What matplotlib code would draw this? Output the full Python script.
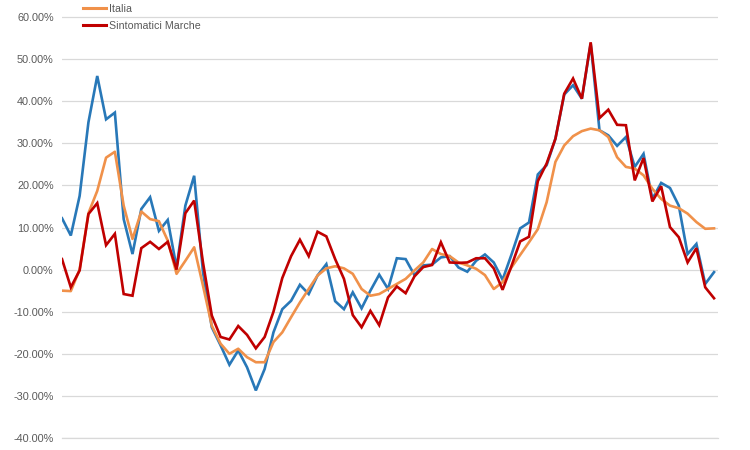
import matplotlib
matplotlib.use("Agg")
import matplotlib.pyplot as plt
from matplotlib.ticker import PercentFormatter, MultipleLocator
from matplotlib.lines import Line2D

# valori (in %), un punto per periodo
marche = [12.2, 8.1, 17.5, 35, 46, 35.7, 37.3, 12, 3.7, 14.4,
          17.2, 9.2, 11.8, 0.5, 15.2, 22.3, -0.6, -13.7, -18, -22.6,
          -19.2, -23.2, -28.7, -23.6, -14.9, -9.4, -7.4, -3.6, -5.8, -1.4,
          1.3, -7.5, -9.4, -5.4, -9.2, -5, -1.2, -4.6, 2.7, 2.5,
          -1.3, 1, 1.2, 2.9, 3.2, 0.5, -0.5, 2.1, 3.6, 1.7,
          -2.4, 3.5, 9.8, 11.2, 22.6, 24.8, 31.1, 41.6, 43.8, 40.6,
          53.7, 33.1, 31.9, 29.4, 31.5, 24.4, 27.5, 16.8, 20.6, 19.4,
          15.2, 3.7, 6.1, -3.4, -0.6]

italia = [-5, -5.1, 0, 13.4, 18.7, 26.6, 28, 15.2, 7.3, 13.8,
          12, 11.5, 6.9, -1, 2.1, 5.3, -3.8, -13.3, -17.6, -20,
          -18.8, -20.8, -22, -22, -17.2, -14.9, -11.3, -7.8, -4.6, -1.4,
          0.3, 0.8, 0.3, -1, -4.6, -6.2, -5.8, -4.6, -3.4, -2.2,
          -0.2, 1.7, 4.9, 3.7, 3.2, 1.7, 1, 0.2, -1.3, -4.6,
          -3.0, 0.5, 3.5, 6.5, 9.6, 16, 25.6, 29.5, 31.7, 32.9,
          33.5, 33.1, 31.5, 26.7, 24.4, 24, 22.4, 19.2, 16.8, 15.2,
          14.6, 13.3, 11.3, 9.7, 9.8]

sintomatici = [2.5, -4.2, -0.2, 13.2, 15.8, 5.8, 8.5, -5.8, -6.2, 5.1,
               6.6, 4.9, 6.6, 0, 13.4, 16.4, 1.7, -10.9, -16, -16.6,
               -13.4, -15.5, -18.7, -16, -10, -2, 3.2, 7.1, 3.2, 9.0,
               7.9, 2.5, -2.2, -10.8, -13.7, -9.8, -13.2, -6.6, -4, -5.6,
               -1.6, 0.6, 1.1, 6.5, 1.7, 1.6, 1.7, 2.7, 2.7, 0.3,
               -4.8, 0.8, 6.7, 7.8, 21, 25.2, 31.1, 41.8, 45.4, 40.6,
               54, 36, 38, 34.4, 34.3, 21.2, 26.5, 16.2, 19.8, 10.1,
               7.7, 1.7, 5.1, -4.2, -6.8]

etichette = ["Italia", "Sintomatici Marche"]

plt.rcParams["font.family"] = ["Liberation Sans", "DejaVu Sans"]
plt.rcParams["axes.unicode_minus"] = False

col_blu = "#2878B8"
col_arancio = "#F0914A"
col_rosso = "#C00000"
col_testo = "#595959"
col_griglia = "#D9D9D9"

fig = plt.figure(figsize=(7.5, 4.5), dpi=100)
ax = fig.add_axes([62 / 750, 1 - 438 / 450, (718 - 62) / 750, 438 / 450])

x = list(range(len(marche)))
ax.plot(x, marche, color=col_blu, lw=1.9, solid_joinstyle="miter")
ax.plot(x, italia, color=col_arancio, lw=1.9)
ax.plot(x, sintomatici, color=col_rosso, lw=1.9, solid_joinstyle="miter")

ax.set_xlim(0, len(marche) - 1 + 0.45)
ax.set_ylim(-40, 64.05)
ax.yaxis.set_major_locator(MultipleLocator(10))
ax.yaxis.set_major_formatter(PercentFormatter(xmax=100, decimals=2))
ax.grid(axis="y", color=col_griglia, lw=0.9)
ax.set_axisbelow(True)
ax.set_xticks([])
ax.tick_params(axis="y", length=0, pad=6, labelsize=7.8, labelcolor=col_testo)
for lato in ["top", "right", "left"]:
    ax.spines[lato].set_visible(False)
ax.spines["bottom"].set_color(col_griglia)
ax.spines["bottom"].set_linewidth(0.9)

# legenda in alto a sinistra, la prima voce tagliata dal bordo
maniglie = [Line2D([], [], color=col_arancio, lw=2.2),
            Line2D([], [], color=col_rosso, lw=2.2)]
ax.legend(maniglie, etichette, loc="upper left",
          bbox_to_anchor=(73 / 750, 1 + 6 / 450), bbox_transform=fig.transFigure,
          frameon=False, fontsize=7.7, labelcolor=col_testo,
          handlelength=2.2, handletextpad=0.3, labelspacing=0.68,
          borderpad=0.4)

fig.savefig("out.png", dpi=100)
